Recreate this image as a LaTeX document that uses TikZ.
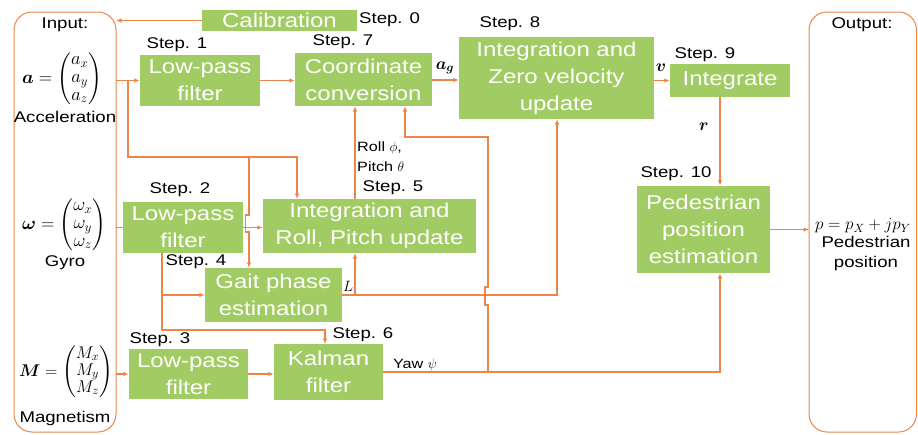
\RequirePackage{fix-cm}
\documentclass[tikz,border=0pt]{standalone}
\usepackage{amsmath}
\usepackage{bm}
\usepackage{fontspec}
\setmainfont[FakeStretch=1.2]{Liberation Sans}
\usetikzlibrary{arrows.meta}
\definecolor{boxgreen}{RGB}{161,204,99}
\definecolor{lineor}{RGB}{237,133,72}
\begin{document}
\begin{tikzpicture}[x=1pt,y=-1pt,
  blk/.style={fill=boxgreen,draw=none,text=white,inner sep=0pt,align=center,
    font=\fontsize{20}{27}\selectfont},
  steplbl/.style={font=\fontsize{15.5}{18}\selectfont,inner sep=0pt},
  mathlbl/.style={font=\fontsize{17}{20}\selectfont,inner sep=0pt},
  vecfrm/.style={font=\fontsize{18.5}{17.5}\selectfont,inner sep=0pt},
  small/.style={font=\fontsize{13.5}{16}\selectfont,inner sep=0pt},
  conn/.style={draw=lineor,line width=1.1pt},
  arr/.style={conn,-{Latex[length=5.5pt,width=4.5pt]}},
  frame/.style={draw=lineor,line width=1pt,rounded corners=18pt}
]
\useasboundingbox (0,0) rectangle (918,434);
% frames
\draw[frame] (14,12) rectangle (116,432);
\draw[frame] (809,12) rectangle (916.5,432);
% boxes
\node[blk,minimum width=155pt,minimum height=21pt] (cal) at (279.5,20.5) {Calibration};
\node[blk,minimum width=120pt,minimum height=51pt] (f1) at (200,80.5) {Low-pass\\filter};
\node[blk,minimum width=137pt,minimum height=53pt] (cc) at (363.5,79.5) {Coordinate\\conversion};
\node[blk,minimum width=195pt,minimum height=82pt] (s8) at (556.5,78) {Integration and\\Zero velocity\\update};
\node[blk,minimum width=120pt,minimum height=33pt] (s9) at (730,80.5) {Integrate};
\node[blk,minimum width=133pt,minimum height=87pt] (s10) at (703.5,229.5) {Pedestrian\\position\\estimation};
\node[blk,minimum width=120pt,minimum height=51pt] (f2) at (183,227.5) {Low-pass\\filter};
\node[blk,minimum width=213pt,minimum height=54pt] (s5) at (369.5,226) {Integration and\\Roll, Pitch update};
\node[blk,minimum width=137pt,minimum height=54pt] (s4) at (273.5,295) {Gait phase\\estimation};
\node[blk,minimum width=109pt,minimum height=56pt] (s6) at (328.5,372) {Kalman\\filter};
\node[blk,minimum width=119pt,minimum height=50pt] (f3) at (188.5,374) {Low-pass\\filter};
% input texts
\node[steplbl] (intitle) at (65,25) {Input:};
\node[vecfrm] (aform) at (62,79) {$\bm{a}=\begin{pmatrix}a_x\\ a_y\\ a_z\end{pmatrix}$};
\node[steplbl] (alab) at (65,117) {Acceleration};
\node[vecfrm] (wform) at (64,225) {$\bm{\omega}=\begin{pmatrix}\omega_x\\ \omega_y\\ \omega_z\end{pmatrix}$};
\node[steplbl] (wlab) at (65,263) {Gyro};
\node[vecfrm,font=\fontsize{17}{17}\selectfont] (mform) at (66,372) {$\bm{M}=\begin{pmatrix}M_x\\ M_y\\ M_z\end{pmatrix}$};
\node[steplbl] (mlab) at (65,418) {Magnetism};
% output texts
\node[steplbl] (outtitle) at (862,25) {Output:};
\node[mathlbl] (pform) at (863,226) {$p=p_X+jp_Y$};
\node[steplbl,align=center,font=\fontsize{15.5}{20}\selectfont] (plab) at (866,253) {Pedestrian\\position};
% step labels
\node[steplbl,anchor=west] (st0) at (359,20) {Step. 0};
\node[steplbl] (st1) at (177,45) {Step. 1};
\node[steplbl] (st7) at (343,42) {Step. 7};
\node[steplbl] (st8) at (510,24) {Step. 8};
\node[steplbl] (st9) at (705,55) {Step. 9};
\node[steplbl] (st10) at (676,174) {Step. 10};
\node[steplbl] (st2) at (180,190) {Step. 2};
\node[steplbl] (st5) at (393,188) {Step. 5};
\node[steplbl] (st4) at (196,262) {Step. 4};
\node[steplbl] (st6) at (363,335) {Step. 6};
\node[steplbl] (st3) at (160,340) {Step. 3};
% signal labels
\node[mathlbl] (ag) at (445,68) {$\bm{a_g}$};
\node[mathlbl] (vl) at (661,68) {$\bm{v}$};
\node[mathlbl] (rl) at (704,127) {$\bm{r}$};
\node[small,anchor=west] (roll) at (357,148) {Roll $\phi$,};
\node[small,anchor=west] (pitch) at (357,167) {Pitch $\theta$};
\node[mathlbl,font=\fontsize{15}{18}\selectfont] (Ll) at (348,286) {$L$};
\node[small] (yaw) at (415,365) {Yaw $\psi$};
% coordinates
\coordinate (calin) at (116,20.5);
\coordinate (ain) at (116,80.5);
\coordinate (win) at (116,227.5);
\coordinate (min) at (116,374);
\coordinate (outin) at (809,229.5);
% connectors
\draw[arr] (cal.west) -- (calin);
\draw[arr] (ain) -- (f1.west);
\draw[arr] (f1.east) -- (f1.east -| cc.west);
\draw[arr] (cc.east |- 0,80) -- (s8.west |- 0,80);
\draw[arr] (s8.east |- s9.west) -- (s9.west);
\draw[arr] ([xshift=-10pt]s9.south) -- ([xshift=-10pt]s9.south |- s10.north);
\draw[arr] (s10.east) -- (outin);
% acceleration branches
\draw[arr] (128,80.5) -- (128,157) -- (297,157) -- (297,199);
\draw[arr] (249,157) -- (249,215) -- (245.5,215) -- (245.5,232) -- (249,232) -- (249,268);
% gyro
\draw[conn] (win) -- (f2.west);
\draw[arr] (f2.east) -- (f2.east -| s5.west);
\draw[arr] (162,253) -- (162,330) -- (325,330) -- (325,344);
\draw[arr] (162,295) -- (s4.west);
% magnetism
\draw[arr] (min) -- (f3.west);
\draw[arr] (f3.east) -- (f3.east -| s6.west);
% roll/pitch
\draw[arr] (355,199) -- (355,106);
% gait phase
\draw[arr] (s4.east) -- (557,295) -- (557,119);
\draw[arr] (355,295) -- (355,253);
% yaw
\draw[arr] (s6.east) -- (720,372) -- (720,273);
\draw[arr] (488,372) -- (488,305) -- (485,305) -- (485,287) -- (488,287) -- (488,137) -- (405,137) -- (405,106);
\end{tikzpicture}
\end{document}
